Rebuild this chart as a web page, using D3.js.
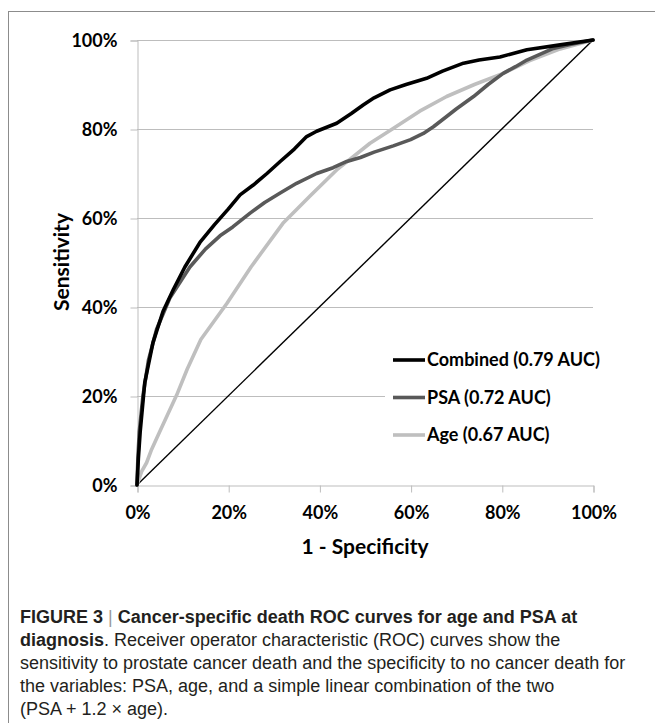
<!DOCTYPE html>
<html>
<head>
<meta charset="utf-8">
<script src="https://cdn.jsdelivr.net/npm/d3@7"></script>
<style>
    body { margin: 0; background: #fff; }
    svg { display: block; }
</style>
</head>
<body>
<svg id="chart" width="655" height="723"></svg>
<script>
    // ROC points, [1 - specificity %, sensitivity %]
    var combined = [[0, 0], [0.3, 6], [0.7, 12], [1.7, 23], [3.5, 32], [5.7, 39], [8, 44], [10.5, 49],
        [13.8, 54.5], [17, 58.5], [20, 62], [22.6, 65.2], [25.5, 67.4], [28.5, 70], [31.4, 72.7],
        [34.5, 75.5], [37.2, 78.3], [39.4, 79.5], [43.8, 81.3], [47, 83.5], [49.6, 85.4], [52, 87],
        [55.5, 88.8], [59, 90], [63.5, 91.4], [67, 93], [71.6, 94.8], [75, 95.5], [79.6, 96.2],
        [85.5, 97.8], [92.8, 98.9], [100, 100]];
    var psa = [[0, 0], [0.2, 6], [0.5, 12], [1.3, 20], [2.5, 28], [4.3, 35], [7.2, 42], [11.6, 49],
        [15, 53], [18.2, 56], [21, 58], [24.8, 61.1], [28, 63.5], [31.4, 65.6], [35, 67.8], [39.4, 70],
        [43, 71.3], [46, 72.7], [49, 73.6], [52, 74.8], [56.2, 76.2], [60, 77.6], [62.8, 79], [65, 80.5],
        [67.9, 82.8], [70, 84.5], [73.8, 87.3], [77, 90], [80.3, 92.5], [83, 94], [85.5, 95.5],
        [91.3, 98.1], [95, 99], [100, 100]];
    var age = [[0, 0], [1, 3], [2.1, 5], [3.2, 8], [5, 12], [8.7, 20.2], [11, 26], [14, 32.7], [19.7, 40.8],
        [25, 49], [32, 58.8], [38, 65], [44, 71], [51.1, 76.8], [56, 80], [62, 84], [67.9, 87.3],
        [74, 90], [80.3, 92.5], [86, 95.3], [92.8, 98], [100, 100]];
    var chance = [[0, 0], [100, 100]];

    var seriesNames = ['Combined (0.79 AUC)', 'PSA (0.72 AUC)', 'Age (0.67 AUC)'];
    var seriesColors = ['#000000', '#595959', '#bfbfbf'];
    var tickValues = [0, 20, 40, 60, 80, 100];

    var captionLines = [
        [{t: 'FIGURE 3 ', b: true}, {t: '|', bar: true}, {t: ' Cancer-specific death ROC curves for age and PSA at', b: true}],
        [{t: 'diagnosis', b: true}, {t: '. Receiver operator characteristic (ROC) curves show the'}],
        [{t: 'sensitivity to prostate cancer death and the specificity to no cancer death for'}],
        [{t: 'the variables: PSA, age, and a simple linear combination of the two'}],
        [{t: '(PSA + 1.2 \u00d7 age).'}]
    ];

    var svg = d3.select('#chart');
    var font = 'Lato, "Open Sans", sans-serif';

    // frame around the figure (only left and top edges are in view)
    svg.append('rect').attr('x', 8.5).attr('y', 11.5).attr('width', 700).attr('height', 750)
        .attr('fill', 'none').attr('stroke', '#8c8c8c').attr('stroke-width', 1);

    var x = d3.scaleLinear().domain([0, 100]).range([137, 593]);
    var y = d3.scaleLinear().domain([0, 100]).range([485, 40]);

    // gridlines
    svg.append('g').selectAll('line').data(tickValues.filter(function (d) { return d > 0; }))
        .enter().append('line')
        .attr('x1', x(0)).attr('x2', x(100))
        .attr('y1', function (d) { return y(d) + 0.5; }).attr('y2', function (d) { return y(d) + 0.5; })
        .attr('stroke', '#bdbdbd').attr('stroke-width', 1);

    var xAxis = d3.axisBottom(x).tickValues(tickValues).tickSize(7).tickFormat(function (d) { return d + '%'; });
    var yAxis = d3.axisLeft(y).tickValues(tickValues).tickSize(7).tickFormat(function (d) { return d + '%'; });

    var gx = svg.append('g').attr('transform', 'translate(0.5,485.5)').call(xAxis);
    var gy = svg.append('g').attr('transform', 'translate(137.5,0.5)').call(yAxis);

    [gx, gy].forEach(function (g) {
        g.select('.domain').attr('stroke', '#bdbdbd');
        g.selectAll('.tick line').attr('stroke', '#bdbdbd');
        g.selectAll('.tick text').attr('fill', '#000').style('font-family', font)
            .style('font-weight', 700).style('font-size', '18px');
    });
    gx.selectAll('.tick text').attr('y', 0).attr('dy', '33px');
    gy.selectAll('.tick text').attr('x', -20).attr('dy', '0.35em');

    // axis titles
    svg.append('text').attr('x', 365).attr('y', 554).attr('text-anchor', 'middle')
        .style('font-family', font).style('font-weight', 700).style('font-size', '21px')
        .text('1 - Specificity');
    svg.append('text').attr('transform', 'translate(69,262) rotate(-90)').attr('text-anchor', 'middle')
        .style('font-family', font).style('font-weight', 700).style('font-size', '21px')
        .text('Sensitivity');

    var line = d3.line()
        .x(function (d) { return x(d[0]); })
        .y(function (d) { return y(d[1]); });

    svg.append('path').datum(chance).attr('d', line)
        .attr('fill', 'none').attr('stroke', '#000').attr('stroke-width', 1.4);

    [age, psa, combined].forEach(function (s, i) {
        svg.append('path').datum(s).attr('d', line)
            .attr('fill', 'none').attr('stroke', seriesColors[2 - i]).attr('stroke-width', 3.6)
            .attr('stroke-linejoin', 'round').attr('stroke-linecap', 'round');
    });

    // legend, sits on a white box over the gridlines
    var legend = svg.append('g');
    legend.append('rect').attr('x', 385).attr('y', 340).attr('width', 208).attr('height', 115).attr('fill', '#fff');
    var rows = legend.selectAll('g.row').data(seriesNames).enter().append('g')
        .attr('transform', function (d, i) { return 'translate(0,' + (360 + i * 37.5) + ')'; });
    rows.append('line').attr('x1', 393).attr('x2', 425).attr('y1', 0).attr('y2', 0)
        .attr('stroke', function (d, i) { return seriesColors[i]; }).attr('stroke-width', 3.6);
    rows.append('text').attr('x', 427).attr('dy', '0.35em')
        .style('font-family', font).style('font-weight', 700).style('font-size', '18px')
        .text(function (d) { return d; });

    // caption
    var cap = svg.append('g').style('font-family', '"Liberation Sans", Arial, sans-serif')
        .style('font-size', '18px').attr('fill', '#231f20');
    captionLines.forEach(function (parts, i) {
        var t = cap.append('text').attr('x', 20).attr('y', 623 + i * 23);
        parts.forEach(function (p) {
            t.append('tspan').text(p.t)
                .style('font-weight', p.b ? 700 : 400)
                .attr('fill', p.bar ? '#9a9a9a' : null);
        });
    });
</script>
</body>
</html>
